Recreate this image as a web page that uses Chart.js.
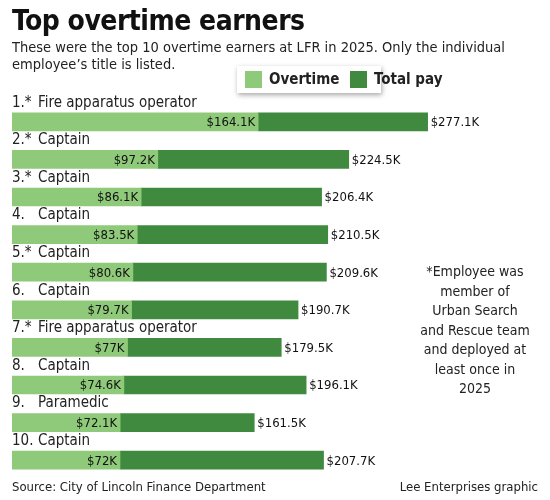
<!DOCTYPE html>
<html><head><meta charset="utf-8">
<script src="https://cdn.jsdelivr.net/npm/chart.js@4/dist/chart.umd.min.js"></script>
<style>
body{margin:0;width:550px;height:500px;background:#fff;position:relative;overflow:hidden;font-family:"DejaVu Sans Condensed","Liberation Sans",sans-serif;color:#222}
#c{position:absolute;left:0;top:0}
.t{position:absolute;left:12px;top:4px;font-size:28px;font-weight:bold;color:#111;letter-spacing:-0.5px}
.s{position:absolute;left:12px;top:39px;font-size:14.5px;line-height:17px;white-space:nowrap}
.lg{position:absolute;left:237px;top:66px;width:144px;height:27px;box-shadow:1px 2px 5px rgba(0,0,0,.35);background:#fff;font-weight:bold;font-size:15px}
.lg span{position:absolute;top:4px;white-space:nowrap}
.sq{display:inline-block;width:17px;height:17px;position:absolute;top:5px}
.note{position:absolute;left:420px;top:262px;width:110px;text-align:center;font-size:14px;line-height:19.5px}
.src{position:absolute;left:12px;top:479px;font-size:13px}
.cr{position:absolute;right:12px;top:479px;font-size:13px}
</style></head><body>
<canvas id="c" width="550" height="500"></canvas>
<div class="t">Top overtime earners</div>
<div class="s">These were the top 10 overtime earners at LFR in 2025. Only the individual<br>employee’s title is listed.</div>
<div class="lg"><i class="sq" style="left:8px;background:#8fca7a"></i><span style="left:32px">Overtime</span><i class="sq" style="left:113px;background:#3f8a3f"></i><span style="left:137px">Total pay</span></div>
<div class="note">*Employee was member of Urban Search and Rescue team and deployed at least once in 2025</div>
<div class="src">Source: City of Lincoln Finance Department</div>
<div class="cr">Lee Enterprises graphic</div>
<script>
const ranks=["1.*","2.*","3.*","4.","5.*","6.","7.*","8.","9.","10."];
const titles=["Fire apparatus operator","Captain","Captain","Captain","Captain","Captain","Fire apparatus operator","Captain","Paramedic","Captain"];
const overtime=[164.1,97.2,86.1,83.5,80.6,79.7,77,74.6,72.1,72];
const totalPay=[277.1,224.5,206.4,210.5,209.6,190.7,179.5,196.1,161.5,207.7];
const otLabels=["$164.1K","$97.2K","$86.1K","$83.5K","$80.6K","$79.7K","$77K","$74.6K","$72.1K","$72K"];
const totLabels=["$277.1K","$224.5K","$206.4K","$210.5K","$209.6K","$190.7K","$179.5K","$196.1K","$161.5K","$207.7K"];
const rest=totalPay.map((t,i)=>t-overtime[i]);
const F='"DejaVu Sans Condensed","Liberation Sans",sans-serif';
const labelsPlugin={id:'lbl',afterDatasetsDraw(ch){
 const c=ch.ctx,y=ch.scales.y,x=ch.scales.x;
 c.save();c.textBaseline='middle';
 ranks.forEach((r,i)=>{
  const yc=y.getPixelForValue(i);
  c.fillStyle='#222';c.font='15px '+F;c.textAlign='left';
  c.fillText(r,12,yc-19);c.fillText(titles[i],38,yc-19);
  c.font='13px '+F;
  c.textAlign='right';c.fillStyle='#111';c.fillText(otLabels[i],x.getPixelForValue(overtime[i])-3,yc+1);
  c.textAlign='left';c.fillText(totLabels[i],x.getPixelForValue(totalPay[i])+3,yc+1);
 });
 c.restore();}};
new Chart(document.getElementById('c'),{type:'bar',
 data:{labels:titles,datasets:[
  {data:overtime,backgroundColor:'#8fca7a',barThickness:18},
  {data:rest,backgroundColor:'#3f8a3f',barThickness:18}]},
 options:{indexAxis:'y',responsive:false,animation:false,
  layout:{padding:{left:12,right:88,top:103,bottom:21}},
  plugins:{legend:{display:false},tooltip:{enabled:false}},
  scales:{x:{stacked:true,min:0,max:300,display:false},y:{stacked:true,display:false}}},
 plugins:[labelsPlugin]});
</script></body></html>
